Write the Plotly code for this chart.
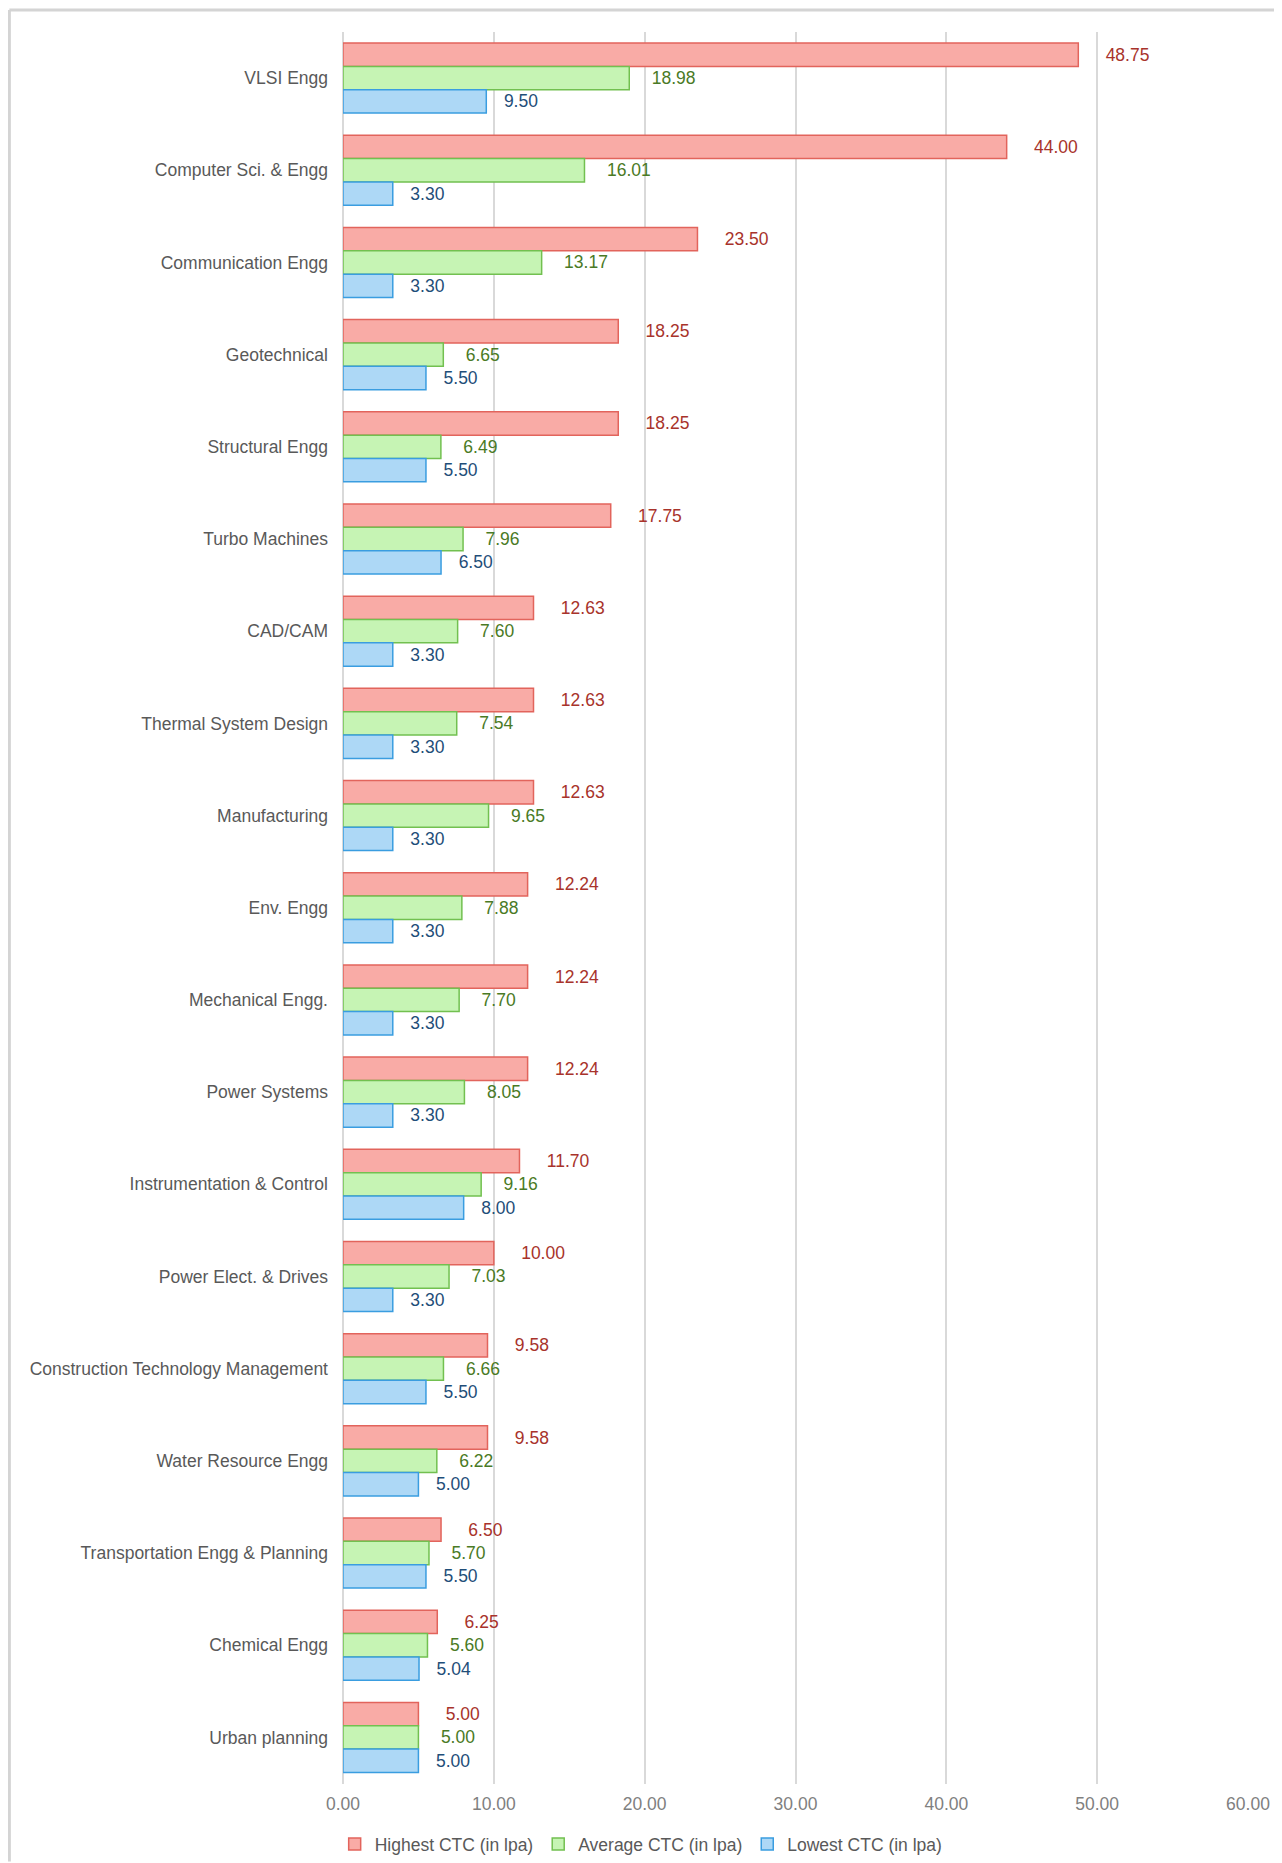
import plotly.graph_objects as go

categories = [
    "VLSI Engg", "Computer Sci. & Engg", "Communication Engg", "Geotechnical",
    "Structural Engg", "Turbo Machines", "CAD/CAM", "Thermal System Design",
    "Manufacturing", "Env. Engg", "Mechanical Engg.", "Power Systems",
    "Instrumentation & Control", "Power Elect. & Drives",
    "Construction Technology Management", "Water Resource Engg",
    "Transportation Engg & Planning", "Chemical Engg", "Urban planning",
]
highest = [48.75, 44.00, 23.50, 18.25, 18.25, 17.75, 12.63, 12.63, 12.63,
           12.24, 12.24, 12.24, 11.70, 10.00, 9.58, 9.58, 6.50, 6.25, 5.00]
average = [18.98, 16.01, 13.17, 6.65, 6.49, 7.96, 7.60, 7.54, 9.65,
           7.88, 7.70, 8.05, 9.16, 7.03, 6.66, 6.22, 5.70, 5.60, 5.00]
lowest = [9.50, 3.30, 3.30, 5.50, 5.50, 6.50, 3.30, 3.30, 3.30,
          3.30, 3.30, 3.30, 8.00, 3.30, 5.50, 5.00, 5.50, 5.04, 5.00]
x_ticks = [0, 10, 20, 30, 40, 50, 60]
series_names = ["Highest CTC (in lpa)", "Average CTC (in lpa)", "Lowest CTC (in lpa)"]

FONT = "Liberation Sans, Arial, sans-serif"
FS = 17.5
styles = [
    dict(fill="#F9ABA6", line="#E2645C", text="#A8332B", pad=5),
    dict(fill="#C6F4B4", line="#72C050", text="#4A7A25", pad=4),
    dict(fill="#ADD8F6", line="#3A9DE0", text="#1F4E79", pad=3),
]

W, H = 1274, 1855
ML, MR, MT, MB = 335, 33, 24, 78
PW, PH = W - ML - MR, H - MT - MB

fig = go.Figure()
for name, vals, st in zip(series_names, [highest, average, lowest], styles):
    fig.add_trace(go.Bar(
        y=categories, x=vals, orientation="h", name=name,
        marker=dict(color=st["fill"], line=dict(color=st["line"], width=1.5)),
        text=["\u00a0" * st["pad"] + f"{v:.2f}" for v in vals],
        textposition="outside", cliponaxis=False, constraintext="none",
        textfont=dict(family=FONT, size=FS, color=st["text"]),
        hoverinfo="x+y+name",
    ))

fig.update_layout(
    width=W, height=H,
    paper_bgcolor="white", plot_bgcolor="white",
    barmode="group", bargap=0.24, bargroupgap=0,
    margin=dict(l=ML, r=MR, t=MT, b=MB),
    font=dict(family=FONT, size=FS, color="#595959"),
    showlegend=True,
    legend=dict(orientation="h", xref="container", yref="container",
                x=0.497, xanchor="center", y=19 / H, yanchor="middle",
                font=dict(size=FS, color="#595959"), itemwidth=30,
                traceorder="normal"),
    xaxis=dict(range=[0, 60], tickvals=x_ticks,
               ticktext=[f"{t:.2f}" for t in x_ticks],
               showgrid=True, gridcolor="#D9D9D9", gridwidth=1.5,
               zeroline=True, zerolinecolor="#D9D9D9", zerolinewidth=1.5,
               showline=False, ticks="", ticklabelstandoff=8,
               tickfont=dict(size=FS, color="#808080")),
    yaxis=dict(autorange="reversed", showgrid=False, zeroline=False,
               showline=False, ticks="", ticklabelstandoff=14,
               tickfont=dict(size=FS, color="#595959")),
    shapes=[
        dict(type="line", xref="paper", yref="paper",
             x0=(1 - ML) / PW, x1=(W - ML) / PW,
             y0=1 + (MT - 2) / PH, y1=1 + (MT - 2) / PH,
             line=dict(color="#D4D4D4", width=3)),
        dict(type="line", xref="paper", yref="paper",
             x0=(1 - ML) / PW, x1=(1 - ML) / PW,
             y0=1 + (MT - 2) / PH, y1=-MB / PH,
             line=dict(color="#D4D4D4", width=3)),
    ],
)

fig.write_html("out.html")
